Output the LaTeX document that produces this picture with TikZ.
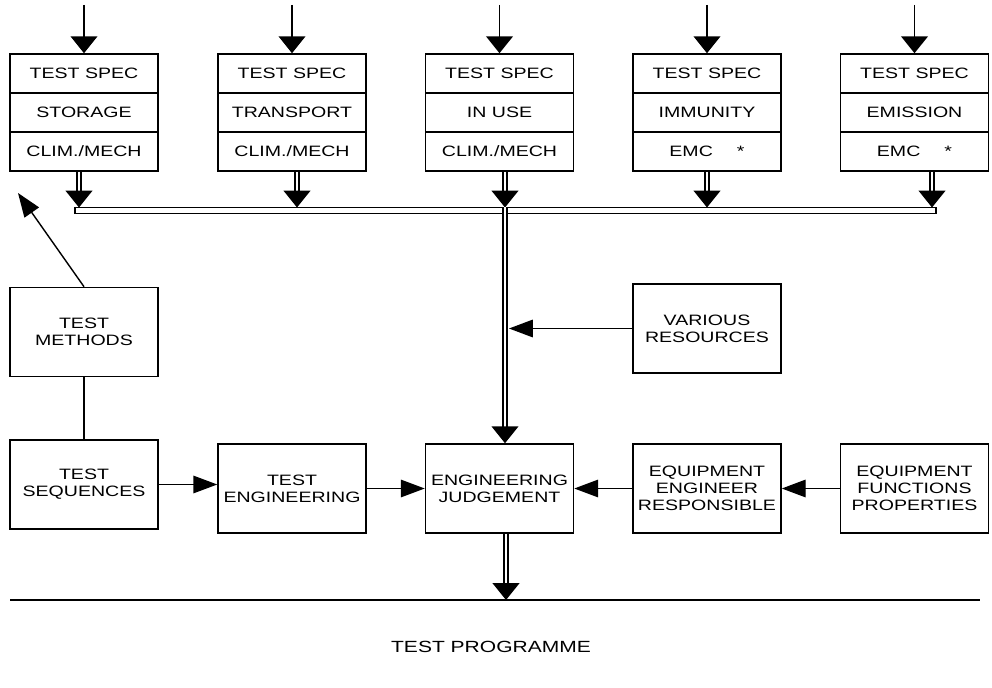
\documentclass[tikz,border=0pt]{standalone}
\usepackage{fontspec}
\setmainfont{Liberation Sans}[FakeStretch=1.3]
\usetikzlibrary{arrows.meta}
\tikzset{
  cell/.style={draw, line width=1.1pt, minimum width=3.7cm, minimum height=0.975cm, inner sep=0pt, font=\fontsize{10.7}{12}\selectfont},
  box/.style={draw, line width=1.1pt, minimum width=3.7cm, minimum height=2.225cm, inner sep=0pt, align=center, font=\fontsize{10.7}{12}\selectfont},
  arr/.style={line width=1pt, -{Triangle[length=17pt,width=12.5pt]}},
  downarr/.style={line width=1.1pt, -{Triangle[length=12pt,width=19pt]}},
  dblarr/.style={double, line width=1.3pt, double distance=1.8pt, -{Triangle[length=12pt,width=19pt]}},
}
\begin{document}
\begin{tikzpicture}[x=0.025cm, y=-0.025cm]
    \useasboundingbox (0,0) rectangle (992,688);
    % test specifications
    \foreach \n/\x/\what/\kind in {1/84/STORAGE/{CLIM./MECH}, 2/292/TRANSPORT/{CLIM./MECH}, 3/499.5/{IN USE}/{CLIM./MECH}, 4/707/IMMUNITY/{EMC\hspace{1.6em}*}, 5/914.5/EMISSION/{EMC\hspace{1.6em}*}} {
        \node[cell] (spec\n) at (\x,73.5) {TEST SPEC};
        \node[cell] (aim\n) at (\x,112.5) {\what};
        \node[cell] (kind\n) at (\x,151.5) {\kind};
        \coordinate (feed\n) at (\x,5);
        \draw[downarr] (feed\n) -- (spec\n.north);
    }
    % collecting bus
    \coordinate (busL) at (75,207.5);
    \coordinate (busR) at (936,213.5);
    \draw[line width=1pt] (busL) rectangle (busR);
    \foreach \n/\x in {1/79, 2/297, 3/505, 4/707, 5/932} {
        \coordinate (drop\n) at (\x,207.5);
        \draw[dblarr] (kind\n.south -| drop\n) -- (drop\n);
    }
    % boxes
    \node[box] (methods) at (84,332) {TEST\\METHODS};
    \node[box] (resources) at (707,328.5) {VARIOUS\\RESOURCES};
    \node[box] (sequences) at (84,484.5) {TEST\\SEQUENCES};
    \node[box] (testeng) at (292,488.5) {TEST\\ENGINEERING};
    \node[box] (judge) at (499.5,488.5) {ENGINEERING\\JUDGEMENT};
    \node[box] (equipeng) at (707,488.5) {EQUIPMENT\\ENGINEER\\RESPONSIBLE};
    \node[box] (equipfun) at (914.5,488.5) {EQUIPMENT\\FUNCTIONS\\PROPERTIES};
    % trunk down to judgement
    \coordinate (trunk) at (505,207.5);
    \coordinate (trunkedge) at (509,0);
    \draw[dblarr] (trunk) -- (trunk |- judge.north);
    \draw[arr] (resources.west) -- (resources.west -| trunkedge);
    % methods and sequences
    \coordinate (methtip) at (18,193);
    \draw[arr] (methods.north) -- (methtip);
    \draw[line width=1pt] (methods) -- (sequences);
    \draw[arr] (sequences.east) -- (sequences.east -| testeng.west);
    \draw[arr] (testeng) -- (judge);
    \draw[arr] (equipeng) -- (judge);
    \draw[arr] (equipfun) -- (equipeng);
    % programme
    \coordinate (progL) at (10,600);
    \coordinate (progR) at (980,600);
    \draw[line width=1pt] (progL) -- (progR);
    \coordinate (out) at (506,600);
    \draw[dblarr] (judge.south -| out) -- (out);
    \node[font=\fontsize{11.5}{13}\selectfont] (programme) at (491,647) {TEST PROGRAMME};
\end{tikzpicture}
\end{document}
